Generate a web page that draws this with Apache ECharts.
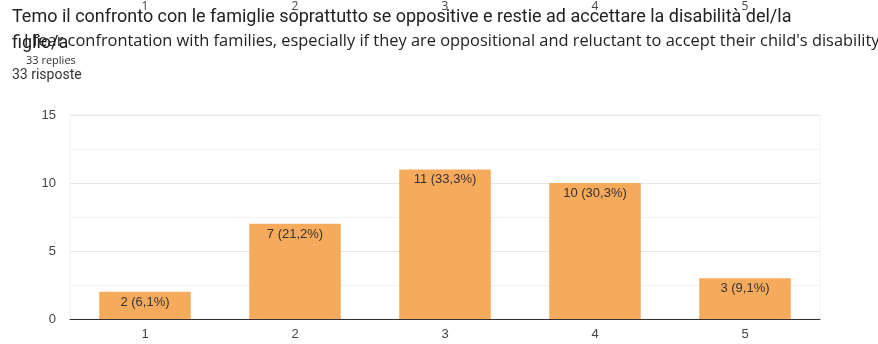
<!DOCTYPE html>
<html>
<head>
<meta charset="utf-8">
<script src="https://cdn.jsdelivr.net/npm/echarts@6/dist/echarts.min.js"></script>
<style>
  html, body { margin: 0; padding: 0; background: #fff; }
  #chart { width: 878px; height: 344px; }
</style>
</head>
<body>
<div id="chart"></div>
<script>
const categories = ['1', '2', '3', '4', '5'];
const counts = [2, 7, 11, 10, 3];
const percents = ['6,1%', '21,2%', '33,3%', '30,3%', '9,1%'];
const yTicks = [0, 5, 10, 15];

const titleIt = 'Temo il confronto con le famiglie soprattutto se oppositive e restie ad accettare la disabilità del/la';
const titleIt2 = 'figlio/a';
const titleEn = "I fear confrontation with families, especially if they are oppositional and reluctant to accept their child's disability";
const repliesEn = '33 replies';
const repliesIt = '33 risposte';

const chart = echarts.init(document.getElementById('chart'));

chart.setOption({
  animation: false,
  backgroundColor: '#fff',
  title: [
    { text: titleIt, left: 7, top: 3, textStyle: { fontFamily: 'Roboto', fontSize: 18, fontWeight: 'normal', color: '#202124' } },
    { text: titleIt2, left: 7, top: 29, textStyle: { fontFamily: 'Roboto', fontSize: 18, fontWeight: 'normal', color: '#202124' } },
    { text: titleEn, left: 19, top: 28, textStyle: { fontFamily: 'Open Sans', fontSize: 16.4, fontWeight: 'normal', color: '#222' } },
    { text: repliesEn, left: 21, top: 50, textStyle: { fontFamily: 'Open Sans', fontSize: 11, fontWeight: 'normal', color: '#333' } },
    { text: repliesIt, left: 7, top: 63, textStyle: { fontFamily: 'Roboto', fontSize: 14, fontWeight: 'normal', color: '#333' } }
  ],
  grid: { left: 70, right: 58, top: 115, bottom: 25, show: true, borderColor: '#f0f0f0', borderWidth: 1 },
  xAxis: [
    {
      type: 'category',
      data: categories,
      axisLine: { lineStyle: { color: '#333', width: 1 } },
      axisTick: { show: false },
      axisLabel: { color: '#444', fontFamily: 'Arial', fontSize: 13, margin: 9 }
    },
    {
      type: 'category',
      data: categories,
      position: 'top',
      offset: 100,
      axisLine: { show: false },
      axisTick: { show: false },
      axisLabel: { color: '#444', fontFamily: 'Open Sans', fontSize: 12, margin: 2 }
    }
  ],
  yAxis: {
    type: 'value',
    min: yTicks[0],
    max: yTicks[yTicks.length - 1],
    interval: 5,
    axisLine: { show: false },
    axisTick: { show: false },
    axisLabel: { color: '#444', fontFamily: 'Arial', fontSize: 13, margin: 14 },
    splitLine: { lineStyle: { color: '#e6e6e6' } },
    minorTick: { show: false, splitNumber: 2 },
    minorSplitLine: { show: true, lineStyle: { color: '#f2f2f2' } }
  },
  series: [{
    type: 'bar',
    data: counts,
    barWidth: '61%',
    itemStyle: { color: '#f6aa5c' },
    label: {
      show: true,
      position: 'insideTop',
      distance: 4,
      color: '#333',
      fontFamily: 'Arial',
      fontSize: 13,
      formatter: (p) => p.value + ' (' + percents[p.dataIndex] + ')'
    }
  }]
});
</script>
</body>
</html>
